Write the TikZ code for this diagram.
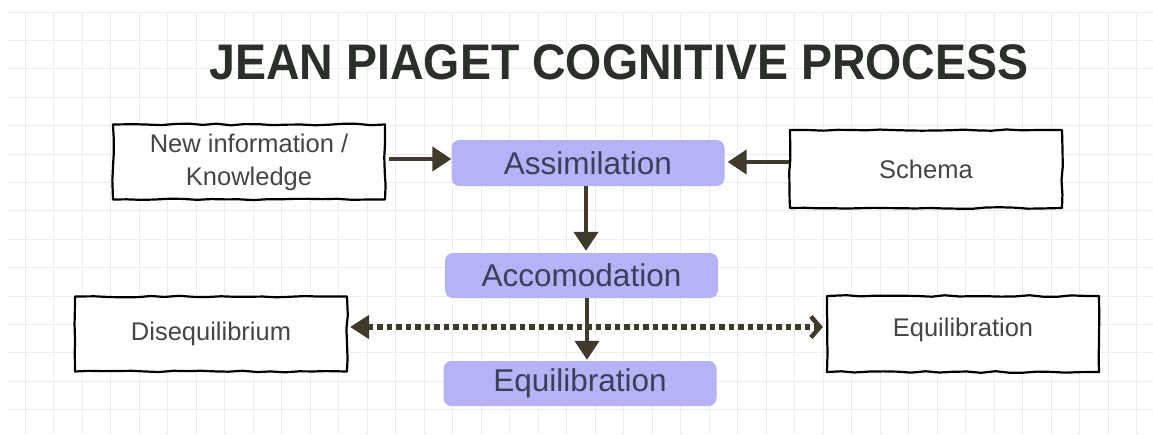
\documentclass[tikz,border=0pt]{standalone}
\usepackage{fontspec}
\setmainfont{Liberation Sans}
\usetikzlibrary{arrows.meta,decorations.pathmorphing}
\definecolor{gridgray}{HTML}{ECECEC}
\definecolor{titleink}{HTML}{2B2F29}
\definecolor{boxink}{HTML}{454545}
\definecolor{stageblue}{HTML}{B5B3F5}
\definecolor{stageink}{HTML}{3A3F5A}
\definecolor{arrowbrown}{HTML}{3F3A2B}

\begin{document}
\begin{tikzpicture}[
  x=1pt,y=-1pt,
  line join=round,
  sketchbox/.style={draw=black,line width=2.2pt,fill=white,
    decorate,decoration={random steps,segment length=14pt,amplitude=0.8pt},
    minimum width=272pt,minimum height=75pt,align=center,
    text=boxink,font=\fontsize{25.5}{33}\selectfont,inner sep=0pt},
  stage/.style={fill=stageblue,rounded corners=8pt,draw=none,
    minimum width=273pt,minimum height=46pt,inner sep=0pt,
    text=stageink,font=\fontsize{31.5}{36}\selectfont},
  flow/.style={draw=arrowbrown,line width=4.2pt,
    -{Triangle[length=19pt,width=24pt]}},
  dots/.style={draw=arrowbrown,line width=6pt,dash pattern=on 5.5pt off 4pt,
    {Triangle[length=19pt,width=23pt]}-{Straight Barb[length=9pt,width=21pt,line width=4.5pt]}}
]
  \pgfmathsetseed{7}
  \useasboundingbox (0,0) rectangle (1153,434);
  \fill[white] (0,0) rectangle (1153,434);

  % Background grid.
  \foreach \gx in {0,...,39} {
    \draw[gridgray,line width=1pt] (25+28.5*\gx,12) -- (25+28.5*\gx,434);
  }
  \foreach \gy in {0,...,14} {
    \draw[gridgray,line width=1pt] (7,12+28.4*\gy) -- (1153,12+28.4*\gy);
  }

  % Title.
  \node[text=titleink,font=\bfseries\fontsize{50}{52}\selectfont,xscale=0.93,inner sep=0pt]
    (title) at (619,62) {JEAN PIAGET COGNITIVE PROCESS};

  % Outer boxes.
  \node[sketchbox] (newinfo) at (249,162) {New information /\\Knowledge};
  \node[sketchbox,minimum height=78pt] (schema) at (926,169) {Schema};
  \node[sketchbox] (diseq) at (211,334) {Disequilibrium};
  \node[sketchbox,minimum height=76pt,text depth=14pt] (equilr) at (963,334) {Equilibration};

  % Process stages.
  \node[stage] (assim) at (588,163) {Assimilation};
  \node[stage,minimum height=45pt] (accom) at (581.5,275.5) {Accomodation};
  \node[stage,minimum height=45pt] (equil) at (580,383.5) {Equilibration};

  % Guide coordinates for connector rows and columns.
  \coordinate (stemA) at (586,0);
  \coordinate (stemB) at (587,0);
  \coordinate (rowin) at (0,159);
  \coordinate (rowsch) at (0,162);
  \coordinate (rowdot) at (0,327);

  % Dotted balance line.
  \draw[dots,shorten <=2pt,shorten >=3pt] (diseq.east |- rowdot) -- (equilr.west |- rowdot);

  % Solid flow arrows.
  \draw[flow,shorten <=3pt] (newinfo.east |- rowin) -- (assim.west |- rowin);
  \draw[flow,shorten >=3pt] (schema.west |- rowsch) -- (assim.east |- rowsch);
  \draw[flow,shorten >=2pt] (assim.south -| stemA) -- (accom.north -| stemA);
  \draw[flow,shorten >=1pt] (accom.south -| stemB) -- (equil.north -| stemB);
\end{tikzpicture}
\end{document}
